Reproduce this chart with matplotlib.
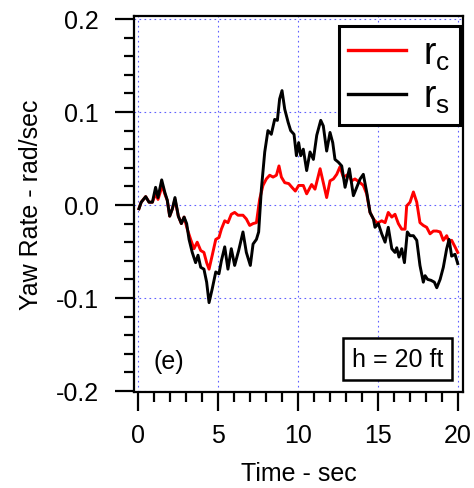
import numpy as np
import matplotlib
matplotlib.use("Agg")
import matplotlib.pyplot as plt
from matplotlib.ticker import MultipleLocator

plt.rcParams['font.family'] = ['Liberation Sans', 'DejaVu Sans']
plt.rcParams['mathtext.fontset'] = 'custom'
plt.rcParams['mathtext.rm'] = 'Liberation Sans'
plt.rcParams['mathtext.it'] = 'Liberation Sans'
plt.rcParams['axes.unicode_minus'] = False

# commanded yaw rate r_c (red)
t_c = [0.06, 0.2, 0.48, 0.69, 0.9, 1.1, 1.25, 1.52, 1.67, 1.83, 1.98, 2.15, 2.31, 2.52,
       2.71, 2.88, 3.08, 3.29, 3.5, 3.7, 3.92, 4.12, 4.29, 4.44, 4.64, 4.86, 5.06, 5.21,
       5.42, 5.62, 5.83, 6.04, 6.25, 6.56, 6.77, 6.98, 7.19, 7.4, 7.6, 7.81, 8.02, 8.23,
       8.44, 8.65, 8.81, 8.96, 9.17, 9.42, 9.62, 9.83, 10.04, 10.33, 10.54, 10.85, 11.06,
       11.38, 11.58, 11.79, 12.0, 12.21, 12.42, 12.62, 12.83, 13.15, 13.35, 13.56, 13.88,
       14.08, 14.29, 14.5, 14.71, 14.92, 15.02, 15.23, 15.44, 15.64, 15.86, 16.06, 16.27,
       16.48, 16.69, 16.79, 17.0, 17.21, 17.42, 17.62, 17.83, 18.04, 18.25, 18.46, 18.67,
       18.88, 19.08, 19.29, 19.44, 19.6, 19.81, 19.98]
r_c = [-0.004, 0.003, 0.009, 0.003, 0.003, 0.012, 0.006, 0.021, 0.012, 0.005, -0.012,
       -0.004, 0.006, -0.012, -0.020, -0.013, -0.026, -0.037, -0.047, -0.040, -0.049,
       -0.051, -0.062, -0.069, -0.054, -0.037, -0.035, -0.026, -0.017, -0.019, -0.010,
       -0.008, -0.011, -0.011, -0.015, -0.022, -0.020, -0.019, 0.006, 0.021, 0.028, 0.032,
       0.030, 0.032, 0.042, 0.030, 0.024, 0.023, 0.019, 0.015, 0.021, 0.021, 0.012, 0.022,
       0.017, 0.039, 0.024, 0.008, 0.026, 0.028, 0.033, 0.041, 0.030, 0.033, 0.026, 0.028,
       0.024, 0.021, 0.012, -0.008, -0.015, -0.019, -0.019, -0.017, -0.019, -0.008, -0.013,
       -0.010, -0.020, -0.026, -0.026, -0.001, 0.003, 0.014, 0.003, -0.019, -0.022, -0.024,
       -0.031, -0.028, -0.028, -0.029, -0.038, -0.033, -0.040, -0.038, -0.045, -0.051]

# measured yaw rate r_s (black)
t_s = [0.06, 0.2, 0.48, 0.69, 0.9, 1.1, 1.25, 1.48, 1.67, 1.83, 1.98, 2.15, 2.31, 2.52,
       2.71, 2.88, 3.04, 3.19, 3.39, 3.6, 3.75, 3.92, 4.12, 4.29, 4.44, 4.64, 4.86, 5.06,
       5.21, 5.42, 5.62, 5.83, 6.04, 6.29, 6.56, 6.77, 7.02, 7.19, 7.4, 7.54, 7.71, 7.92,
       8.12, 8.33, 8.54, 8.71, 8.85, 9.0, 9.17, 9.38, 9.54, 9.75, 9.9, 10.04, 10.17, 10.33,
       10.54, 10.75, 10.96, 11.17, 11.42, 11.58, 11.79, 12.0, 12.17, 12.31, 12.52, 12.73,
       12.94, 13.21, 13.46, 13.67, 13.88, 14.08, 14.29, 14.5, 14.71, 14.81, 15.02, 15.23,
       15.44, 15.64, 15.86, 16.06, 16.17, 16.31, 16.48, 16.65, 16.83, 17.0, 17.21, 17.42,
       17.62, 17.83, 17.94, 18.1, 18.31, 18.52, 18.67, 18.88, 19.08, 19.29, 19.44, 19.6,
       19.81, 19.98]
r_s = [-0.004, 0.003, 0.009, 0.003, 0.003, 0.019, 0.008, 0.027, 0.014, 0.005, -0.012,
       -0.004, 0.008, -0.012, -0.020, -0.013, -0.020, -0.037, -0.051, -0.062, -0.054,
       -0.067, -0.069, -0.083, -0.105, -0.090, -0.072, -0.074, -0.060, -0.045, -0.069,
       -0.047, -0.065, -0.049, -0.029, -0.051, -0.065, -0.042, -0.037, -0.029, 0.017,
       0.057, 0.080, 0.076, 0.092, 0.091, 0.114, 0.123, 0.103, 0.089, 0.080, 0.076, 0.053,
       0.067, 0.053, 0.060, 0.037, 0.057, 0.049, 0.075, 0.091, 0.085, 0.058, 0.078, 0.067,
       0.049, 0.046, 0.042, 0.019, 0.039, 0.010, 0.019, 0.028, 0.033, 0.014, -0.008,
       -0.015, -0.024, -0.020, -0.031, -0.040, -0.024, -0.047, -0.051, -0.046, -0.056,
       -0.047, -0.062, -0.029, -0.033, -0.033, -0.038, -0.065, -0.083, -0.076, -0.080,
       -0.081, -0.083, -0.089, -0.080, -0.067, -0.047, -0.037, -0.055, -0.053, -0.063]

fig = plt.figure(figsize=(4.74, 4.89), dpi=100)
ax = fig.add_axes([0.2827, 0.1963, 0.6941, 0.7689])

ax.plot(t_c, r_c, color='#ff0000', lw=2.1, label=r'$\mathregular{r_c}$')
ax.plot(t_s, r_s, color='black', lw=2.1, label=r'$\mathregular{r_s}$')

ax.set_xlim(-0.25, 20.31)
ax.set_ylim(-0.2011, 0.2032)
ax.xaxis.set_major_locator(MultipleLocator(5))
ax.xaxis.set_minor_locator(MultipleLocator(1))
ax.yaxis.set_major_locator(MultipleLocator(0.1))
ax.yaxis.set_minor_locator(MultipleLocator(0.02))
ax.yaxis.set_major_formatter(matplotlib.ticker.FormatStrFormatter('%.1f'))

ax.tick_params(which='major', direction='out', length=13.5, width=1.6, labelsize=18)
ax.tick_params(axis='y', which='major', pad=12)
ax.tick_params(axis='x', which='major', pad=9)
ax.tick_params(which='minor', direction='out', length=7, width=1.6)
for s in ax.spines.values():
    s.set_linewidth(1.6)

ax.grid(True, which='major', color='#6060ff', linestyle=(0, (1.5, 3)), lw=0.8)

ax.set_xlabel('Time - sec', fontsize=18, labelpad=10)
ax.set_ylabel('Yaw Rate - rad/sec', fontsize=18, labelpad=9)

leg = ax.legend(loc='upper right', bbox_to_anchor=(0.9705, 0.9448), bbox_transform=fig.transFigure,
                fontsize=27, frameon=True, fancybox=False, edgecolor='black', framealpha=1,
                handlelength=1.55, handletextpad=0.45, borderpad=0.25, labelspacing=0.2,
                borderaxespad=0)
leg.get_frame().set_linewidth(2.2)
for h in leg.get_lines():
    h.set_linewidth(2.4)
leg.set_zorder(5)

ax.text(0.058, 0.082, '(e)', transform=ax.transAxes, fontsize=18, va='center', ha='left')
ax.text(0.802, 0.088, 'h = 20 ft', transform=ax.transAxes, fontsize=18, va='center', ha='center',
        bbox=dict(boxstyle='square,pad=0.35', fc='white', ec='black', lw=1.8), zorder=6)

fig.savefig('out.png', dpi=100)
